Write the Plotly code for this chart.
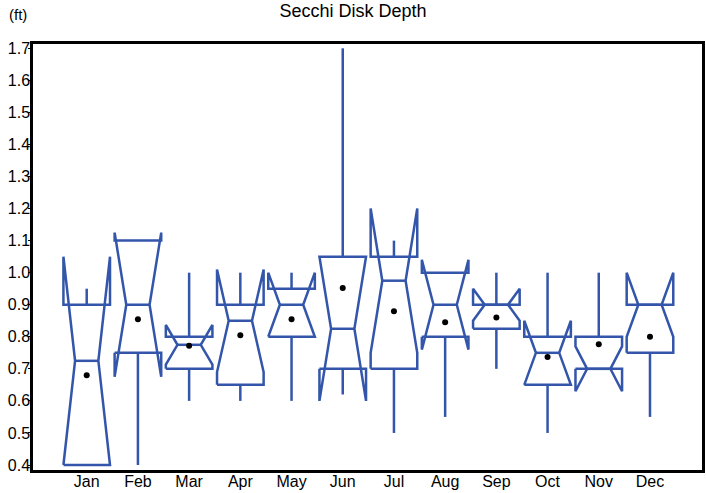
import plotly.graph_objects as go

months = ["Jan", "Feb", "Mar", "Apr", "May", "Jun", "Jul", "Aug", "Sep", "Oct", "Nov", "Dec"]
q1 = [0.40, 0.75, 0.70, 0.65, 0.80, 0.70, 0.70, 0.80, 0.825, 0.65, 0.70, 0.75]
median = [0.725, 0.90, 0.775, 0.85, 0.90, 0.825, 0.975, 0.90, 0.90, 0.75, 0.70, 0.90]
q3 = [0.90, 1.10, 0.80, 0.90, 0.95, 1.05, 1.05, 1.00, 0.90, 0.80, 0.80, 0.90]
lowerfence = [0.40, 0.40, 0.60, 0.60, 0.60, 0.62, 0.50, 0.55, 0.70, 0.50, 0.70, 0.55]
upperfence = [0.95, 1.10, 1.00, 1.00, 1.00, 1.70, 1.10, 1.00, 1.00, 1.00, 1.00, 0.90]
notchspan = [0.325, 0.225, 0.062, 0.16, 0.10, 0.225, 0.225, 0.14, 0.05, 0.10, 0.07, 0.10]
means = [0.68, 0.855, 0.772, 0.805, 0.855, 0.952, 0.88, 0.845, 0.86, 0.737, 0.777, 0.80]
yticks = [0.4, 0.5, 0.6, 0.7, 0.8, 0.9, 1.0, 1.1, 1.2, 1.3, 1.4, 1.5, 1.6, 1.7]
yticklabels = ["0.4", "0.5", "0.6", "0.7", "0.8", "0.9", "1.0", "1.1", "1.2", "1.3", "1.4", "1.5", "1.6", "1.7"]

BLUE = "#3355AA"
FONT = "Liberation Sans, Arial, sans-serif"
BOX_W = 0.91      # box width in category units
NOTCH_W = 0.25    # notch indentation per side, fraction of box width

# Build notched box outlines + whiskers (same geometry as a notched box plot)
xs, ys = [], []
for i in range(len(months)):
    h = BOX_W / 2
    hm = h * (1 - 2 * NOTCH_W)
    p0, p1 = i - h, i + h
    m0, m1 = i - hm, i + hm
    med = median[i]
    ln = med - notchspan[i]
    un = med + notchspan[i]
    xs += [p0, p0, m0, p0, p0, p1, p1, m1, p1, p1, p0, None]
    ys += [q1[i], ln, med, un, q3[i], q3[i], un, med, ln, q1[i], q1[i], None]
    xs += [m0, m1, None]
    ys += [med, med, None]
    if lowerfence[i] < q1[i]:
        xs += [i, i, None]
        ys += [q1[i], lowerfence[i], None]
    if upperfence[i] > q3[i]:
        xs += [i, i, None]
        ys += [q3[i], upperfence[i], None]

fig = go.Figure()
fig.add_trace(go.Scatter(
    x=xs, y=ys, mode="lines", line=dict(color=BLUE, width=2.5),
    showlegend=False, hoverinfo="skip", connectgaps=False,
))
fig.add_trace(go.Scatter(
    x=list(range(len(months))), y=means, mode="markers",
    marker=dict(color="black", size=6), showlegend=False, hoverinfo="skip",
))

fig.update_layout(
    width=706, height=493,
    margin=dict(l=33, r=4, t=44, b=23),
    paper_bgcolor="white", plot_bgcolor="white",
    font=dict(family=FONT, size=16, color="black"),
    title=dict(text="Secchi Disk Depth", x=0.5, xanchor="center", xref="container",
               y=1 - 11 / 493, yanchor="middle", font=dict(size=18, family=FONT, color="black")),
    annotations=[dict(text="(ft)", xref="paper", yref="paper", x=-0.039, y=1.0704,
                      xanchor="left", yanchor="middle", showarrow=False,
                      font=dict(size=15, family=FONT, color="black"))],
)
fig.update_xaxes(
    range=[-1.049, 12.016], tickvals=list(range(len(months))), ticktext=months,
    showgrid=False, zeroline=False, automargin=False,
    showline=True, linecolor="black", linewidth=2.5, mirror=True,
    ticks="", tickfont=dict(size=16), ticklabelstandoff=-5,
)
fig.update_yaxes(
    range=[0.3844, 1.7134], tickvals=yticks, ticktext=yticklabels,
    showgrid=False, zeroline=False, automargin=False,
    showline=True, linecolor="black", linewidth=2.5, mirror=True,
    ticks="outside", ticklen=2, tickcolor="black", tickwidth=1, tickfont=dict(size=16),
    ticklabelstandoff=-5,
)

fig.write_html("out.html", config={"displayModeBar": False},
               post_script="document.body.style.margin='0';")
